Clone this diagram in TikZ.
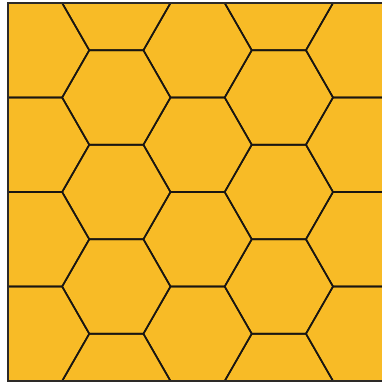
\documentclass[tikz,border=0pt]{standalone}
\usepackage{tikz}
\definecolor{honey}{RGB}{248,187,38}
\definecolor{edgeline}{RGB}{25,22,18}
\definecolor{frameline}{RGB}{45,42,40}
\tikzset{
  hexline/.style={draw=edgeline, line width=1.6pt, line join=round},
  frame/.style={draw=frameline, line width=2.1pt}
}
\begin{document}
\begin{tikzpicture}[x=1pt,y=-1pt]
\useasboundingbox (0,0) rectangle (382,386);
\fill[white] (0,0) rectangle (382,386);
\fill[honey] (8,3) rectangle (382,381);
\pgfmathsetmacro{\hs}{54.17}
\pgfmathsetmacro{\hh}{47.25}
\begin{scope}
\clip (8,3) rectangle (382,381);
\foreach \j in {-1,...,5}{
  \pgfmathsetmacro{\cx}{8+\hs/2+1.5*\hs*\j}
  \pgfmathtruncatemacro{\pty}{mod(\j+2,2)}
  \foreach \k in {-1,...,5}{
    \pgfmathsetmacro{\cy}{3+\hh*(2*\k+1-\pty)}
    \draw[hexline] (\cx-\hs,\cy) -- (\cx-\hs/2,\cy-\hh) -- (\cx+\hs/2,\cy-\hh)
      -- (\cx+\hs,\cy) -- (\cx+\hs/2,\cy+\hh) -- (\cx-\hs/2,\cy+\hh) -- cycle;
  }
}
\end{scope}
\draw[frame] (383,3) -- (8,3) -- (8,381) -- (383,381);
\end{tikzpicture}
\end{document}
